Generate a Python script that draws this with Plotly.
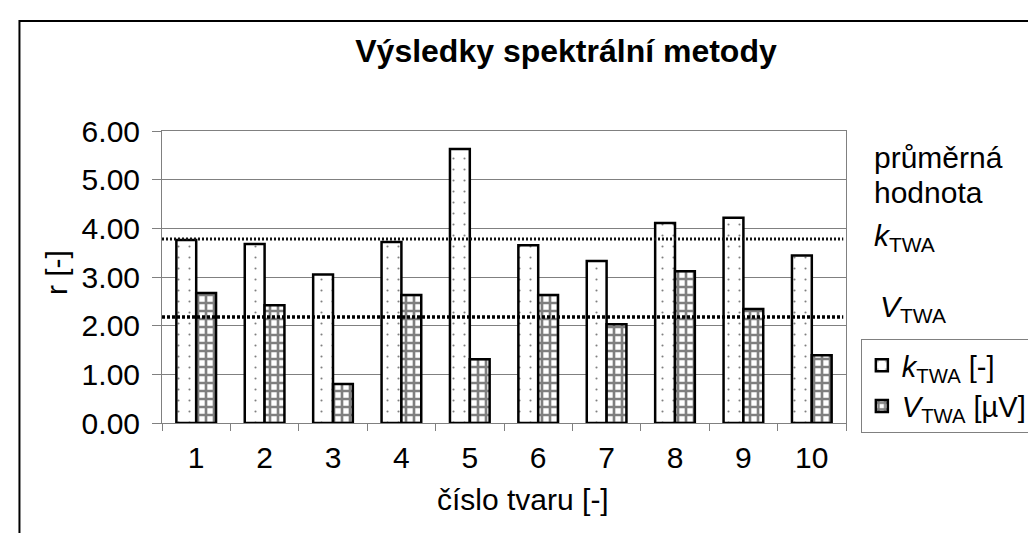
import plotly.graph_objects as go

# ---------------- data ----------------
categories = ["1", "2", "3", "4", "5", "6", "7", "8", "9", "10"]
k_twa = [3.76, 3.68, 3.05, 3.72, 5.63, 3.65, 3.33, 4.11, 4.22, 3.44]
v_twa = [2.67, 2.42, 0.80, 2.63, 1.31, 2.63, 2.03, 3.12, 2.34, 1.39]
k_mean = 3.78
v_mean = 2.18
y_ticks = [0, 1, 2, 3, 4, 5, 6]
y_tick_labels = ["0.00", "1.00", "2.00", "3.00", "4.00", "5.00", "6.00"]

title_text = "<b>Výsledky spektrální metody</b>"
x_title = "číslo tvaru [-]"
y_title = "r [-]"
k_name = "<i>k</i><sub>TWA</sub> [-]"
v_name = "<i>V</i><sub>TWA</sub> [µV]"

# ---------------- layout geometry (pixels) ----------------
W, H = 1036, 533
PL, PR, PT, PB = 154, 845, 123, 415
FONT = "Liberation Sans, Arial, sans-serif"
GRAY = "#808080"


def px_x(px):
    return (px - PL) / (PR - PL)


def px_y(py):
    return (PB - py) / (PB - PT)


fig = go.Figure()
fig.add_trace(go.Bar(
    x=categories, y=k_twa, name=k_name,
    marker=dict(color="white", line=dict(color="black", width=2.5),
                pattern=dict(shape=".", fgcolor="black", bgcolor="white",
                             size=11, solidity=0.03)),
))
fig.add_trace(go.Bar(
    x=categories, y=v_twa, name=v_name,
    marker=dict(color="white", line=dict(color="black", width=2.5),
                pattern=dict(shape="+", fgcolor="black", bgcolor="white",
                             size=8, solidity=0.55)),
))

# mean lines
fig.add_shape(type="line", xref="x domain", yref="y", x0=0, x1=0.996,
              y0=k_mean, y1=k_mean,
              line=dict(color="#111111", width=3, dash="2px,2px"))
fig.add_shape(type="line", xref="x domain", yref="y", x0=0, x1=0.996,
              y0=v_mean, y1=v_mean,
              line=dict(color="black", width=3.5, dash="3px,2px"))

# outer frame (partially outside the visible window)
fig.add_shape(type="rect", xref="paper", yref="paper",
              x0=px_x(10), x1=px_x(1200), y0=px_y(700), y1=px_y(13),
              line=dict(color="black", width=2), layer="below")

annotations = [
    dict(text=y_title, x=px_x(47), y=px_y(265), textangle=-90,
         font=dict(size=30)),
    dict(text=x_title, x=px_x(519), y=px_y(491), font=dict(size=30)),
    dict(text="průměrná", x=px_x(871), y=px_y(149), xanchor="left",
         font=dict(size=30)),
    dict(text="hodnota", x=px_x(871), y=px_y(184), xanchor="left",
         font=dict(size=30)),
    dict(text="<i>k</i><sub>TWA</sub>", x=px_x(871), y=px_y(229),
         xanchor="left", font=dict(size=30)),
    dict(text="<i>V</i><sub>TWA</sub>", x=px_x(877), y=px_y(300),
         xanchor="left", font=dict(size=30)),
]
for a in annotations:
    a.setdefault("xanchor", "center")
    a.update(xref="paper", yref="paper", yanchor="middle", showarrow=False)

fig.update_layout(
    width=W, height=H, autosize=False,
    margin=dict(l=PL, r=W - PR, t=PT, b=H - PB, pad=0),
    paper_bgcolor="white", plot_bgcolor="white",
    font=dict(family=FONT, color="black", size=30),
    title=dict(text=title_text, x=558 / W, xref="container", xanchor="center",
               y=1 - 43 / H, yref="container", yanchor="middle",
               font=dict(size=32, family=FONT, color="black")),
    barmode="group", bargap=0.42, bargroupgap=0,
    showlegend=True,
    legend=dict(x=px_x(860), y=px_y(331), xanchor="left", yanchor="top",
                bordercolor=GRAY, borderwidth=1, bgcolor="white",
                font=dict(size=29, family=FONT), traceorder="normal",
                itemclick=False),
    annotations=annotations,
)
fig.update_xaxes(type="category", tickson="boundaries", ticks="outside",
                 ticklen=7, tickcolor=GRAY, showline=True, linecolor=GRAY,
                 linewidth=1, mirror=True, showgrid=False,
                 tickfont=dict(size=30), ticklabelstandoff=8)
fig.update_yaxes(range=[0, 6], tickvals=y_ticks, ticktext=y_tick_labels,
                 ticks="outside", ticklen=9, tickcolor=GRAY, showline=True,
                 linecolor=GRAY, linewidth=1, mirror=True, showgrid=True,
                 gridcolor=GRAY, gridwidth=1, zeroline=False,
                 tickfont=dict(size=30), ticklabelstandoff=6)

fig.write_html("out.html")
